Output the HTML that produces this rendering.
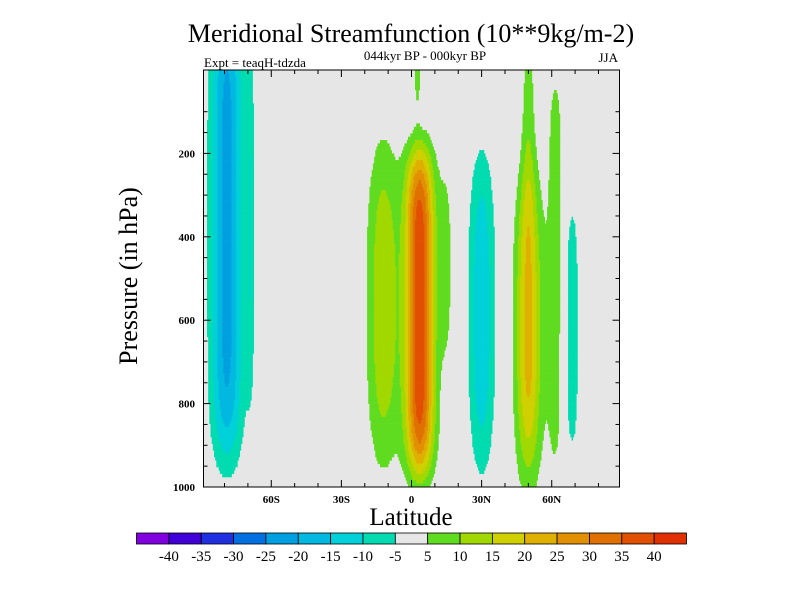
<!DOCTYPE html>
<html><head><meta charset="utf-8"><style>
body{margin:0;background:#fff;width:800px;height:600px;overflow:hidden}
svg{display:block}
text{font-family:"Liberation Serif",serif}
</style></head><body>
<svg id="c" width="800" height="600">
<text x="411" y="42" text-anchor="middle" font-size="26">Meridional Streamfunction (10**9kg/m-2)</text>
<text x="425" y="60" text-anchor="middle" font-size="13">044kyr BP - 000kyr BP</text>
<text x="204" y="67" font-size="13">Expt = teaqH-tdzda</text>
<text x="618" y="62" text-anchor="end" font-size="13">JJA</text>
<text transform="translate(137,276) rotate(-90)" text-anchor="middle" font-size="26">Pressure (in hPa)</text>
<text x="411" y="525" text-anchor="middle" font-size="25">Latitude</text>
<rect x="203.5" y="70" width="416" height="417" fill="#e6e6e6"/>
<g id="field"></g>
<g id="axes"></g>
<g id="cbar"></g>
</svg>
<script>
// blobs: center latitude, center pressure, lat sigma, pressure half-width, amplitude, p-exponent
const blobLat = [-79, -69, 3.5, -12, 2.5, 14.5, 30, 50, 50, 61.5, 68.5];
const blobP   = [380, 380, 580, 560, 20, 470, 580, 620, 150, 480, 620];
const blobSL  = [6.8, 1.8, 6, 7, 1.8, 3, 5.5, 5.5, 3, 4, 3.5];
const blobSP  = [560, 430, 390, 390, 90, 230, 380, 360, 260, 520, 330];
const blobAmp = [-22, -7.5, 39, 14, 6.5, 7, -14.5, 22, 7, 7, -8];
const blobK   = [6, 4, 6, 3, 2, 3, 3, 3, 4, 6, 4];
const levels = [-40,-35,-30,-25,-20,-15,-10,-5,5,10,15,20,25,30,35,40];
const colors = ["#8000e0","#4000d8","#2030e0","#0070e0","#00a0e0","#00b8e0","#00d0d8","#00dcb0","#e6e6e6","#60dc20","#a0d800","#d0d000","#e0b000","#e09000","#e07000","#e05000","#e03000"];
const xTickVals = [-60,-30,0,30,60];
const xTickLabels = ["60S","30S","0","30N","60N"];
const yTickVals = [200,400,600,800,1000];

const NS="http://www.w3.org/2000/svg";
const X0=203.5,X1=619.5,LAT0=-89,LAT1=89,Y0=70,Y1=487,P0=0,P1=1000;
const xs=l=>X0+(l-LAT0)/(LAT1-LAT0)*(X1-X0);
const ys=p=>Y0+(p-P0)/(P1-P0)*(Y1-Y0);
function mk(t,a,parent){const e=document.createElementNS(NS,t);for(const k in a)e.setAttribute(k,a[k]);parent.appendChild(e);return e;}
function val(l,p){let s=0;for(let i=0;i<blobLat.length;i++){s+=blobAmp[i]*Math.exp(-Math.pow((l-blobLat[i])/blobSL[i],2))*Math.exp(-Math.pow(Math.abs((p-blobP[i])/blobSP[i]),blobK[i]));}return s;}
function cls(v){let k=0;while(k<levels.length&&v>=levels[k])k++;return k;}
const field=document.getElementById('field');
const dl=0.5,dp=8;
for(let p=P0;p<P1;p+=dp){
  let runStart=LAT0,runC=-1;
  for(let l=LAT0;l<=LAT1+1e-9;l+=dl){
    const c=l<LAT1-1e-9?cls(val(l+dl/2,p+dp/2)):-2;
    if(c!==runC){
      if(runC>=0&&runC!==8){
        const r=mk('rect',{x:xs(runStart).toFixed(2),y:ys(p).toFixed(2),width:(xs(l)-xs(runStart)+0.3).toFixed(2),height:(ys(Math.min(p+dp,P1))-ys(p)+0.3).toFixed(2),fill:colors[runC]},field);
        
        
      }
      runStart=l;runC=c;
    }
  }
}
const ax=document.getElementById('axes');
const fr=mk('rect',{x:X0,y:Y0,width:X1-X0,height:Y1-Y0,fill:"none",stroke:"#000","stroke-width":1},ax);


for(let l=-80;l<=80;l+=10){
  const maj=l%30===0, L=maj?7:4;
  mk('line',{x1:xs(l),x2:xs(l),y1:Y1,y2:Y1-L,stroke:"#000"},ax);
  mk('line',{x1:xs(l),x2:xs(l),y1:Y0,y2:Y0+L,stroke:"#000"},ax);
}
for(let p=100;p<1000;p+=50){
  const maj=p%200===0, L=maj?7:4;
  mk('line',{y1:ys(p),y2:ys(p),x1:X0,x2:X0+L,stroke:"#000"},ax);
  mk('line',{y1:ys(p),y2:ys(p),x1:X1,x2:X1-L,stroke:"#000"},ax);
}
xTickVals.forEach((v,i)=>{const t=mk('text',{x:xs(v),y:503,"text-anchor":"middle","font-size":11,"font-weight":"bold"},ax);t.textContent=xTickLabels[i];

});
yTickVals.forEach(v=>{const t=mk('text',{x:195,y:ys(v)+4,"text-anchor":"end","font-size":11,"font-weight":"bold"},ax);t.textContent=v;

});
const cb=document.getElementById('cbar');
const CX0=136.5,CX1=686.5,CW=(CX1-CX0)/colors.length;
colors.forEach((c,i)=>{const r=mk('rect',{x:CX0+i*CW,y:533,width:CW,height:11,fill:c,stroke:"#000","stroke-width":0.8},cb);

});
levels.forEach((v,i)=>{const t=mk('text',{x:CX0+(i+1)*CW,y:561,"text-anchor":"middle","font-size":15},cb);t.textContent=v;

});
</script>
</body></html>
